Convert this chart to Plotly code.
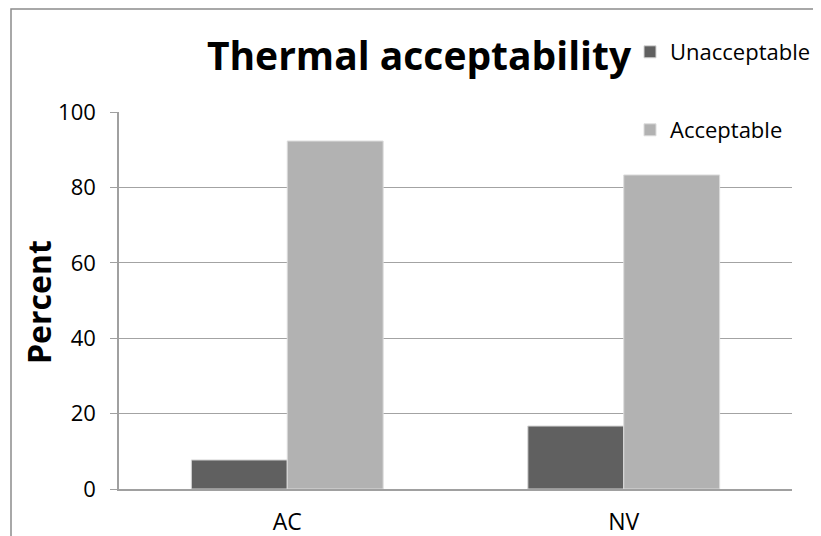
import plotly.graph_objects as go

categories = ["AC", "NV"]
unacceptable = [7.7, 16.7]
acceptable = [92.3, 83.3]
y_ticks = [0, 20, 40, 60, 80, 100]

# page body adds an 8px offset; work in reference pixel coords and shift
OFF = 8
W, H = 821 - OFF, 536 - OFF
L, R, T, B = 119 - OFF, 792 - OFF, 112 - OFF, 489 - OFF

def px_x(p):
    return (p - OFF - L) / (R - L)

def px_y(p):
    return (B - (p - OFF)) / (B - T)

def cx(p):
    return (p - OFF) / W

def cy(p):
    return 1 - (p - OFF) / H

fig = go.Figure()
fig.add_trace(go.Bar(
    x=categories, y=unacceptable, name="Unacceptable",
    marker=dict(color="#606060", line=dict(color="#d4d4d4", width=1)),
    legend="legend",
))
fig.add_trace(go.Bar(
    x=categories, y=acceptable, name="Acceptable",
    marker=dict(color="#b2b2b2", line=dict(color="#dcdcdc", width=1)),
    legend="legend2",
))

font_family = "Open Sans, Noto Sans, DejaVu Sans, sans-serif"

fig.update_layout(
    width=W, height=H,
    margin=dict(l=L, r=W - R, t=T, b=H - B, autoexpand=False),
    paper_bgcolor="white", plot_bgcolor="white",
    showlegend=True,
    barmode="group", bargap=0.43, bargroupgap=0,
    font=dict(family=font_family, color="black"),
    title=dict(text="<b>Thermal acceptability</b>", x=cx(419), xanchor="center",
               y=cy(56), yanchor="middle", xref="container", yref="container",
               font=dict(size=39, family=font_family, color="black")),
    legend=dict(x=cx(630), y=cy(52), xanchor="left", yanchor="middle",
                xref="container", yref="container",
                bgcolor="rgba(0,0,0,0)", font=dict(size=22), itemwidth=30,
                tracegroupgap=0),
    legend2=dict(x=cx(630), y=cy(130), xanchor="left", yanchor="middle",
                 xref="container", yref="container",
                 bgcolor="rgba(0,0,0,0)", font=dict(size=22), itemwidth=30),
    xaxis=dict(showline=True, linecolor="#a0a0a0", linewidth=1.5, ticks="",
               tickfont=dict(size=23), showgrid=False, ticklabelstandoff=12,
               automargin=False),
    yaxis=dict(range=[0, 100], tickvals=y_ticks, showgrid=True, gridcolor="#a3a3a3",
               gridwidth=1.3, showline=True, linecolor="#a0a0a0", linewidth=1.5,
               ticks="outside", ticklen=7, tickcolor="#a0a0a0", tickfont=dict(size=22),
               zeroline=False, ticklabelstandoff=10, automargin=False),
    annotations=[dict(text="<b>Percent</b>", textangle=-90, showarrow=False,
                      xref="paper", yref="paper", x=px_x(38), y=px_y(302),
                      xanchor="center", yanchor="middle",
                      font=dict(size=32, color="black"))],
    shapes=[dict(type="rect", xref="paper", yref="paper",
                 x0=px_x(11), x1=px_x(819.5), y0=px_y(545), y1=px_y(9),
                 line=dict(color="#8c8c8c", width=1.5), fillcolor="rgba(0,0,0,0)",
                 layer="below")],
)

fig.write_html("out.html")
